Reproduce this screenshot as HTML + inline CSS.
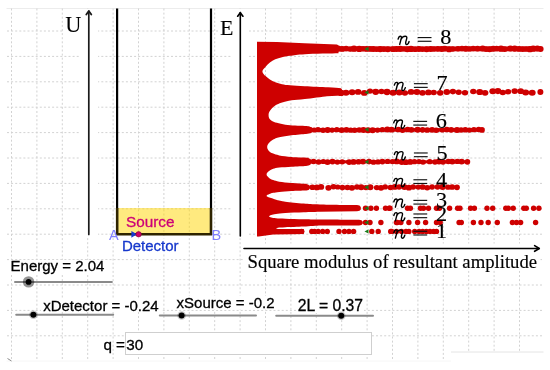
<!DOCTYPE html>
<html><head><meta charset="utf-8"><style>
html,body{margin:0;padding:0;background:#fff;width:550px;height:370px;overflow:hidden}
svg{position:absolute;left:0;top:0;display:block;filter:blur(0.3px)}
.s{font-family:"Liberation Sans",sans-serif;stroke:currentColor;stroke-width:0.3px}
.r{font-family:"Liberation Serif",serif;stroke:currentColor;stroke-width:0.15px}
</style></head><body>
<svg width="550" height="370" viewBox="0 0 550 370">

<g stroke="#ececec" stroke-width="1" fill="none">
<line x1="6.5" y1="8.5" x2="543.5" y2="8.5"/>
<line x1="6.5" y1="361" x2="543.5" y2="361" stroke="#f6f6f6"/>
</g>
<g stroke="#d2d2d2" stroke-width="1" stroke-dasharray="2 2.1" fill="none">
<line x1="11.5" y1="8.5" x2="11.5" y2="361"/>
<line x1="36.9" y1="8.5" x2="36.9" y2="361"/>
<line x1="62.3" y1="8.5" x2="62.3" y2="361"/>
<line x1="87.7" y1="8.5" x2="87.7" y2="361"/>
<line x1="113.1" y1="8.5" x2="113.1" y2="361"/>
<line x1="138.5" y1="8.5" x2="138.5" y2="361"/>
<line x1="163.9" y1="8.5" x2="163.9" y2="361"/>
<line x1="189.3" y1="8.5" x2="189.3" y2="361"/>
<line x1="214.7" y1="8.5" x2="214.7" y2="361"/>
<line x1="240.1" y1="8.5" x2="240.1" y2="361"/>
<line x1="265.5" y1="8.5" x2="265.5" y2="361"/>
<line x1="290.9" y1="8.5" x2="290.9" y2="361"/>
<line x1="316.3" y1="8.5" x2="316.3" y2="361"/>
<line x1="341.7" y1="8.5" x2="341.7" y2="361"/>
<line x1="367.1" y1="8.5" x2="367.1" y2="361"/>
<line x1="392.5" y1="8.5" x2="392.5" y2="361"/>
<line x1="417.9" y1="8.5" x2="417.9" y2="361"/>
<line x1="443.3" y1="8.5" x2="443.3" y2="361"/>
<line x1="468.7" y1="8.5" x2="468.7" y2="361"/>
<line x1="494.1" y1="8.5" x2="494.1" y2="361"/>
<line x1="519.5" y1="8.5" x2="519.5" y2="361"/>
<line x1="7" y1="31.0" x2="543.5" y2="31.0"/>
<line x1="7" y1="56.4" x2="543.5" y2="56.4"/>
<line x1="7" y1="81.8" x2="543.5" y2="81.8"/>
<line x1="7" y1="107.2" x2="543.5" y2="107.2"/>
<line x1="7" y1="132.6" x2="543.5" y2="132.6"/>
<line x1="7" y1="158.0" x2="543.5" y2="158.0"/>
<line x1="7" y1="183.4" x2="543.5" y2="183.4"/>
<line x1="7" y1="208.8" x2="543.5" y2="208.8"/>
<line x1="7" y1="234.2" x2="543.5" y2="234.2"/>
<line x1="7" y1="259.6" x2="543.5" y2="259.6"/>
<line x1="7" y1="285.0" x2="543.5" y2="285.0"/>
<line x1="7" y1="310.4" x2="543.5" y2="310.4"/>
<line x1="7" y1="335.8" x2="543.5" y2="335.8"/>
</g>
<g fill="#fff">
<rect x="63" y="13" width="17" height="23"/>
<rect x="80" y="9" width="18" height="227"/>
<rect x="218.5" y="17" width="13" height="23"/>
<rect x="231.5" y="9" width="17.5" height="228"/>
<rect x="243.5" y="243.5" width="297" height="27"/>
<rect x="9" y="260" width="98" height="15"/>
<rect x="41" y="298" width="120" height="14"/>
<rect x="174" y="296" width="102" height="13.5"/>
<rect x="296" y="299.5" width="68" height="13.5"/>
<rect x="121" y="238.5" width="58" height="15"/>
<rect x="451" y="352" width="93" height="14"/>
</g>
<line x1="451" y1="352" x2="543.5" y2="352" stroke="#e4e4e4" stroke-width="1"/>
<line x1="7.5" y1="358.5" x2="11.5" y2="361" stroke="#888" stroke-width="1"/>
<rect x="117" y="208" width="94" height="26" fill="#ffd600" fill-opacity="0.5"/>
<g stroke="#000" stroke-width="2.2">
<line x1="117.1" y1="8.5" x2="117.1" y2="235"/>
<line x1="211" y1="8.5" x2="211" y2="235"/>
</g>
<polyline points="117.1,208 117.1,234.3 211,234.3 211,208" fill="none" stroke="#2e2400" stroke-width="2.4" stroke-linejoin="miter"/>
<g stroke="#1a1a1a" stroke-width="1.7" fill="none" stroke-linecap="round" stroke-linejoin="round">
<line x1="88.8" y1="11" x2="88.8" y2="234.5"/>
<polyline points="86.3,14.6 88.8,11.1 91.3,14.6" stroke-width="1.8"/>
</g>
<g stroke="#000" stroke-width="1.6" fill="none" stroke-linecap="round" stroke-linejoin="round">
<line x1="240.3" y1="12.6" x2="240.3" y2="236"/>
<polyline points="237.7,16.2 240.3,12.7 242.9,16.2" stroke-width="1.7"/>
<line x1="244" y1="248.5" x2="539" y2="248.5"/>
<polyline points="534.6,245.6 539.3,248.5 534.6,251.3"/>
</g>
<path d="M257,41.8 L277,41.9 L304.5,43.2 L337,44.6 L338.5,45.5 L338.5,53.3 C332.9,53.4 313.1,53.8 305.0,54.2 C296.9,54.6 293.9,55.3 290.1,55.8 C286.3,56.3 284.5,56.6 282.0,57.2 C279.5,57.8 277.3,58.3 275.3,59.2 C273.3,60.1 271.5,61.3 269.9,62.6 C268.3,63.9 266.9,65.3 265.6,66.8 C264.4,68.3 262.4,69.9 262.4,71.4 C262.4,73.0 264.4,74.8 265.6,76.1 C266.9,77.4 268.3,78.5 269.9,79.5 C271.5,80.5 273.3,81.4 275.3,82.2 C277.3,83.0 279.5,83.7 282.0,84.2 C284.5,84.7 286.3,85.0 290.1,85.3 C293.9,85.6 298.7,85.9 305.0,86.2 C311.3,86.5 322.0,87.0 328.0,87.3 C334.0,87.6 338.8,88.0 341.0,88.2 L342.0,89.5 L342.0,95.5 L327.0,96.2 C323.3,96.7 310.8,98.4 304.9,99.1 C299.0,99.8 295.1,99.8 291.5,100.3 C287.9,100.8 285.4,101.5 283.0,102.2 C280.6,102.9 278.7,103.6 276.9,104.6 C275.1,105.6 273.3,107.0 272.0,108.2 C270.7,109.4 269.8,110.8 269.2,112.0 C268.6,113.2 268.6,114.4 268.6,115.5 C268.6,116.6 268.7,117.6 269.3,118.5 C269.9,119.4 270.7,120.2 272.0,120.9 C273.3,121.6 274.7,122.2 276.9,122.8 C279.1,123.4 282.4,124.2 285.4,124.7 C288.4,125.2 291.9,125.3 295.1,125.5 C298.4,125.7 302.4,125.8 304.9,125.9 C307.4,126.0 309.1,126.2 310.0,126.3 L309.0,126.4 L311.5,127.2 L311.5,133.0 L309.0,133.6 L306.0,134.0 C303.6,134.2 295.9,134.8 291.5,135.3 C287.1,135.8 282.4,136.5 279.3,137.2 C276.2,137.9 274.9,138.7 273.2,139.6 C271.5,140.5 270.3,141.6 269.4,142.5 C268.5,143.4 268.0,144.3 267.6,145.0 C267.2,145.7 267.2,146.2 267.2,146.9 C267.2,147.6 267.2,148.2 267.6,149.0 C268.0,149.8 268.5,150.6 269.4,151.4 C270.3,152.2 271.5,152.9 273.2,153.6 C274.9,154.3 276.2,154.8 279.3,155.4 C282.4,156.0 287.2,156.5 291.5,156.9 C295.8,157.3 302.0,157.4 304.9,157.6 C307.8,157.8 308.3,157.9 309.0,158.0 L308.5,158.3 L310.5,159.1 L310.5,164.8 L308.5,165.5 L306.0,165.9 C303.6,166.0 295.9,166.4 291.5,166.7 C287.1,167.0 282.4,167.2 279.3,167.5 C276.2,167.8 274.9,168.2 273.2,168.8 C271.5,169.4 270.4,170.1 269.4,170.8 C268.4,171.5 267.7,172.2 267.2,172.8 C266.7,173.4 266.6,173.9 266.6,174.4 C266.6,174.9 266.7,175.4 267.2,176.0 C267.7,176.6 268.4,177.5 269.4,178.2 C270.4,178.9 271.5,179.5 273.2,180.1 C274.9,180.7 276.2,181.2 279.3,181.7 C282.4,182.2 287.2,182.6 291.5,182.9 C295.8,183.2 302.3,183.5 304.9,183.7 C307.5,183.9 306.6,183.9 307.0,184.0 L306.5,184.2 L308.5,184.9 L308.5,190.0 L306.5,190.4 L304.9,190.5 C302.7,190.6 295.8,190.8 291.5,191.0 C287.2,191.2 282.4,191.6 279.3,191.9 C276.2,192.2 274.9,192.4 273.2,192.8 C271.5,193.2 270.5,193.6 269.4,194.1 C268.3,194.6 266.6,195.3 266.6,195.9 C266.6,196.5 268.3,197.0 269.4,197.5 C270.5,198.0 271.5,198.2 273.2,198.7 C274.9,199.2 277.3,200.1 279.3,200.6 C281.3,201.1 281.3,201.2 285.4,201.7 C289.5,202.2 297.9,203.1 303.7,203.5 C309.5,203.9 311.1,204.2 320.0,204.4 C328.9,204.7 350.8,204.9 357.0,205.0 L359.5,205.6 L360.8,207.0 L360.8,209.5 L359.5,210.8 L357.0,211.3 L320.0,211.8 C317.3,211.9 309.5,212.1 303.7,212.3 C297.9,212.5 290.0,212.8 285.4,213.1 C280.8,213.4 278.4,213.7 276.0,214.0 C273.6,214.3 272.5,214.6 271.3,215.0 C270.1,215.4 269.0,215.9 269.0,216.3 C269.0,216.7 270.1,217.2 271.3,217.5 C272.5,217.8 273.6,218.0 276.0,218.2 C278.4,218.4 280.8,218.5 285.4,218.7 C290.0,218.9 297.9,219.1 303.7,219.2 C309.5,219.3 310.8,219.4 320.0,219.5 C329.2,219.6 352.5,219.7 359.0,219.7 L361.5,220.3 L362.8,221.8 L362.8,223.6 L361.5,224.9 L359.0,225.4 L320.0,225.6 C317.3,225.8 309.5,226.3 303.7,226.6 C297.9,226.9 289.7,227.1 285.4,227.3 C281.1,227.5 279.5,227.6 278.0,227.8 C276.5,228.0 276.3,228.1 276.3,228.3 C276.3,228.5 276.5,228.8 278.0,228.9 C279.5,229.0 281.1,229.1 285.4,229.1 C289.7,229.1 300.6,229.1 303.7,229.1 L304.5,231.5 L303.7,234.0 L291.5,234.2 L273.3,234.6 L258.7,236.4 L257,236.4 Z" fill="#ce0000"/>
<g fill="#ce0000">
<rect x="338" y="46.5" width="202.60000000000002" height="4.8"/><ellipse cx="338.0" cy="48.6" rx="3.39" ry="3.08"/><ellipse cx="342.1" cy="48.9" rx="3.19" ry="2.90"/><ellipse cx="346.1" cy="48.5" rx="2.98" ry="2.71"/><ellipse cx="350.3" cy="49.1" rx="2.97" ry="2.70"/><ellipse cx="354.0" cy="48.7" rx="3.44" ry="3.13"/><ellipse cx="359.3" cy="48.9" rx="3.43" ry="3.12"/><ellipse cx="363.0" cy="48.8" rx="2.98" ry="2.71"/><ellipse cx="366.4" cy="48.9" rx="3.09" ry="2.80"/><ellipse cx="369.9" cy="48.9" rx="3.11" ry="2.83"/><ellipse cx="373.2" cy="49.0" rx="3.29" ry="2.99"/><ellipse cx="376.6" cy="49.2" rx="3.03" ry="2.75"/><ellipse cx="380.2" cy="49.1" rx="3.43" ry="3.12"/><ellipse cx="383.9" cy="49.1" rx="3.12" ry="2.84"/><ellipse cx="387.8" cy="49.2" rx="3.22" ry="2.93"/><ellipse cx="393.1" cy="49.2" rx="3.18" ry="2.89"/><ellipse cx="396.5" cy="49.1" rx="3.30" ry="3.00"/><ellipse cx="400.2" cy="48.9" rx="3.36" ry="3.05"/><ellipse cx="404.0" cy="48.9" rx="2.98" ry="2.71"/><ellipse cx="407.3" cy="49.3" rx="3.26" ry="2.97"/><ellipse cx="411.0" cy="48.9" rx="3.46" ry="3.14"/><ellipse cx="415.1" cy="49.2" rx="3.08" ry="2.80"/><ellipse cx="418.9" cy="49.0" rx="3.20" ry="2.91"/><ellipse cx="422.4" cy="49.3" rx="2.97" ry="2.70"/><ellipse cx="426.6" cy="49.2" rx="3.34" ry="3.03"/><ellipse cx="430.7" cy="49.0" rx="3.18" ry="2.89"/><ellipse cx="434.0" cy="49.0" rx="3.07" ry="2.79"/><ellipse cx="437.8" cy="48.8" rx="3.14" ry="2.86"/><ellipse cx="441.7" cy="49.0" rx="3.20" ry="2.91"/><ellipse cx="444.9" cy="48.6" rx="3.26" ry="2.96"/><ellipse cx="449.1" cy="49.2" rx="3.37" ry="3.07"/><ellipse cx="452.7" cy="49.1" rx="3.01" ry="2.74"/><ellipse cx="458.0" cy="48.7" rx="3.02" ry="2.75"/><ellipse cx="462.0" cy="48.5" rx="3.05" ry="2.77"/><ellipse cx="465.8" cy="48.7" rx="3.32" ry="3.02"/><ellipse cx="469.6" cy="48.9" rx="2.98" ry="2.71"/><ellipse cx="473.2" cy="48.6" rx="3.02" ry="2.75"/><ellipse cx="477.5" cy="48.6" rx="3.27" ry="2.97"/><ellipse cx="482.7" cy="48.6" rx="3.33" ry="3.02"/><ellipse cx="486.1" cy="49.1" rx="3.24" ry="2.95"/><ellipse cx="489.6" cy="49.2" rx="3.23" ry="2.93"/><ellipse cx="493.1" cy="48.8" rx="3.26" ry="2.96"/><ellipse cx="496.6" cy="48.5" rx="3.12" ry="2.83"/><ellipse cx="501.0" cy="48.7" rx="3.39" ry="3.09"/><ellipse cx="504.6" cy="49.1" rx="3.18" ry="2.89"/><ellipse cx="510.4" cy="48.5" rx="3.38" ry="3.07"/><ellipse cx="514.7" cy="48.6" rx="3.40" ry="3.09"/><ellipse cx="519.1" cy="48.9" rx="3.16" ry="2.87"/><ellipse cx="522.7" cy="49.1" rx="3.18" ry="2.89"/><ellipse cx="526.1" cy="49.0" rx="3.12" ry="2.83"/><ellipse cx="529.9" cy="49.2" rx="3.42" ry="3.10"/><ellipse cx="533.2" cy="48.7" rx="3.46" ry="3.14"/><ellipse cx="537.3" cy="48.6" rx="3.30" ry="3.00"/><circle cx="540.6" cy="48.9" r="3.0"/>
<ellipse cx="341.0" cy="92.9" rx="3.60" ry="3.13"/><ellipse cx="346.0" cy="92.7" rx="3.49" ry="3.03"/><ellipse cx="352.1" cy="92.2" rx="3.42" ry="2.97"/><ellipse cx="358.1" cy="91.9" rx="3.31" ry="2.88"/><ellipse cx="364.3" cy="92.9" rx="3.39" ry="2.94"/><ellipse cx="370.0" cy="91.1" rx="3.12" ry="2.71"/><ellipse cx="375.7" cy="91.8" rx="3.57" ry="3.10"/><ellipse cx="381.5" cy="91.5" rx="3.12" ry="2.71"/><ellipse cx="387.0" cy="92.0" rx="3.62" ry="3.15"/><ellipse cx="393.1" cy="92.8" rx="3.52" ry="3.06"/><ellipse cx="399.3" cy="92.5" rx="3.51" ry="3.06"/><ellipse cx="404.9" cy="92.9" rx="3.19" ry="2.77"/><ellipse cx="411.1" cy="91.9" rx="3.38" ry="2.94"/><ellipse cx="416.9" cy="92.0" rx="3.54" ry="3.07"/><ellipse cx="422.5" cy="92.8" rx="3.34" ry="2.91"/><ellipse cx="428.4" cy="92.4" rx="3.36" ry="2.92"/><ellipse cx="433.7" cy="92.4" rx="3.19" ry="2.77"/><ellipse cx="440.2" cy="92.8" rx="3.27" ry="2.84"/><ellipse cx="446.8" cy="92.0" rx="3.37" ry="2.93"/><ellipse cx="452.9" cy="91.6" rx="3.21" ry="2.79"/><ellipse cx="458.7" cy="92.2" rx="3.14" ry="2.73"/><ellipse cx="465.0" cy="92.8" rx="3.20" ry="2.79"/><ellipse cx="473.3" cy="91.5" rx="3.22" ry="2.80"/><ellipse cx="479.7" cy="92.0" rx="3.55" ry="3.08"/><ellipse cx="485.1" cy="92.8" rx="3.32" ry="2.89"/><ellipse cx="492.8" cy="91.3" rx="3.45" ry="3.00"/><ellipse cx="497.9" cy="91.1" rx="3.48" ry="3.03"/><ellipse cx="502.8" cy="92.6" rx="3.19" ry="2.77"/><ellipse cx="508.1" cy="91.8" rx="3.13" ry="2.72"/><ellipse cx="514.7" cy="91.1" rx="3.28" ry="2.85"/><ellipse cx="520.7" cy="91.2" rx="3.28" ry="2.85"/><ellipse cx="525.7" cy="92.5" rx="3.49" ry="3.03"/><ellipse cx="532.2" cy="92.7" rx="3.47" ry="3.02"/><circle cx="540.4" cy="92.0" r="3.0"/>
<rect x="310" y="128.1" width="172.0" height="3.6"/><ellipse cx="310.0" cy="129.7" rx="3.08" ry="2.80"/><ellipse cx="314.2" cy="130.0" rx="2.85" ry="2.59"/><ellipse cx="318.0" cy="129.7" rx="2.93" ry="2.67"/><ellipse cx="323.0" cy="130.2" rx="3.05" ry="2.77"/><ellipse cx="327.6" cy="130.0" rx="3.23" ry="2.94"/><ellipse cx="332.1" cy="130.1" rx="2.85" ry="2.59"/><ellipse cx="336.8" cy="129.7" rx="2.84" ry="2.58"/><ellipse cx="341.7" cy="130.1" rx="3.23" ry="2.94"/><ellipse cx="346.4" cy="129.8" rx="3.20" ry="2.91"/><ellipse cx="350.7" cy="130.2" rx="2.87" ry="2.61"/><ellipse cx="354.6" cy="130.3" rx="3.03" ry="2.75"/><ellipse cx="359.2" cy="129.9" rx="3.00" ry="2.73"/><ellipse cx="363.4" cy="130.0" rx="3.25" ry="2.95"/><ellipse cx="368.0" cy="130.2" rx="3.29" ry="2.99"/><ellipse cx="372.6" cy="130.2" rx="3.28" ry="2.98"/><ellipse cx="377.6" cy="130.1" rx="2.92" ry="2.66"/><ellipse cx="382.4" cy="129.7" rx="2.85" ry="2.59"/><ellipse cx="387.3" cy="129.5" rx="3.20" ry="2.91"/><ellipse cx="391.6" cy="129.7" rx="3.18" ry="2.89"/><ellipse cx="398.4" cy="129.5" rx="3.16" ry="2.87"/><ellipse cx="402.6" cy="130.3" rx="3.06" ry="2.78"/><ellipse cx="407.6" cy="129.5" rx="3.10" ry="2.82"/><ellipse cx="411.4" cy="129.8" rx="3.11" ry="2.83"/><ellipse cx="417.6" cy="129.7" rx="3.27" ry="2.97"/><ellipse cx="422.6" cy="129.9" rx="3.07" ry="2.79"/><ellipse cx="427.2" cy="130.0" rx="3.11" ry="2.83"/><ellipse cx="432.1" cy="129.8" rx="3.16" ry="2.87"/><ellipse cx="436.2" cy="130.3" rx="3.07" ry="2.79"/><ellipse cx="442.3" cy="130.0" rx="2.83" ry="2.57"/><ellipse cx="446.8" cy="129.5" rx="3.12" ry="2.83"/><ellipse cx="451.2" cy="129.8" rx="3.15" ry="2.87"/><ellipse cx="457.0" cy="130.1" rx="3.27" ry="2.98"/><ellipse cx="461.1" cy="130.0" rx="2.97" ry="2.70"/><ellipse cx="465.3" cy="129.8" rx="3.10" ry="2.82"/><ellipse cx="469.4" cy="130.1" rx="2.83" ry="2.58"/><ellipse cx="473.9" cy="129.7" rx="2.93" ry="2.66"/><ellipse cx="478.7" cy="129.6" rx="3.03" ry="2.75"/><circle cx="482.0" cy="129.9" r="2.85"/>
<rect x="309" y="160.3" width="158.39999999999998" height="3.0"/><ellipse cx="309.0" cy="161.6" rx="2.87" ry="2.61"/><ellipse cx="313.5" cy="161.4" rx="3.01" ry="2.74"/><ellipse cx="318.6" cy="162.0" rx="2.93" ry="2.66"/><ellipse cx="323.3" cy="161.5" rx="2.87" ry="2.61"/><ellipse cx="327.5" cy="162.1" rx="3.20" ry="2.91"/><ellipse cx="332.5" cy="161.6" rx="3.12" ry="2.83"/><ellipse cx="337.4" cy="162.1" rx="2.86" ry="2.60"/><ellipse cx="342.2" cy="161.8" rx="2.91" ry="2.64"/><ellipse cx="349.1" cy="162.1" rx="3.08" ry="2.80"/><ellipse cx="353.5" cy="161.9" rx="3.24" ry="2.94"/><ellipse cx="358.5" cy="161.7" rx="3.10" ry="2.82"/><ellipse cx="363.0" cy="161.6" rx="3.20" ry="2.91"/><ellipse cx="369.0" cy="161.6" rx="3.07" ry="2.79"/><ellipse cx="373.5" cy="162.2" rx="2.91" ry="2.65"/><ellipse cx="378.0" cy="161.9" rx="2.95" ry="2.68"/><ellipse cx="382.4" cy="161.6" rx="3.08" ry="2.80"/><ellipse cx="387.6" cy="161.4" rx="2.93" ry="2.66"/><ellipse cx="392.5" cy="161.6" rx="2.98" ry="2.71"/><ellipse cx="396.7" cy="161.4" rx="3.15" ry="2.86"/><ellipse cx="401.8" cy="162.0" rx="3.27" ry="2.98"/><ellipse cx="405.8" cy="162.2" rx="3.19" ry="2.90"/><ellipse cx="410.2" cy="161.9" rx="3.21" ry="2.91"/><ellipse cx="414.5" cy="161.7" rx="2.89" ry="2.62"/><ellipse cx="419.0" cy="161.6" rx="2.83" ry="2.57"/><ellipse cx="423.0" cy="162.1" rx="2.99" ry="2.72"/><ellipse cx="429.7" cy="161.7" rx="2.92" ry="2.65"/><ellipse cx="435.0" cy="162.0" rx="2.89" ry="2.63"/><ellipse cx="439.0" cy="161.6" rx="3.29" ry="2.99"/><ellipse cx="443.0" cy="162.0" rx="3.01" ry="2.74"/><ellipse cx="448.3" cy="161.6" rx="3.01" ry="2.74"/><ellipse cx="452.3" cy="161.6" rx="3.24" ry="2.95"/><ellipse cx="457.3" cy="161.4" rx="2.94" ry="2.67"/><ellipse cx="461.6" cy="161.6" rx="3.23" ry="2.94"/><circle cx="467.4" cy="161.8" r="2.85"/>
<ellipse cx="307.0" cy="187.3" rx="3.08" ry="2.80"/><ellipse cx="312.4" cy="187.3" rx="3.10" ry="2.82"/><ellipse cx="316.8" cy="187.4" rx="3.19" ry="2.90"/><ellipse cx="321.0" cy="186.9" rx="3.20" ry="2.91"/><ellipse cx="328.5" cy="187.8" rx="3.13" ry="2.84"/><ellipse cx="333.5" cy="186.8" rx="3.07" ry="2.79"/><ellipse cx="337.7" cy="187.0" rx="2.84" ry="2.58"/><ellipse cx="342.4" cy="187.6" rx="3.07" ry="2.79"/><ellipse cx="347.4" cy="187.5" rx="3.04" ry="2.76"/><ellipse cx="351.9" cy="187.8" rx="3.22" ry="2.92"/><ellipse cx="357.0" cy="187.0" rx="2.96" ry="2.69"/><ellipse cx="361.2" cy="187.2" rx="3.22" ry="2.93"/><ellipse cx="365.8" cy="187.6" rx="2.82" ry="2.57"/><ellipse cx="370.2" cy="187.3" rx="3.28" ry="2.98"/><ellipse cx="376.8" cy="187.6" rx="2.95" ry="2.68"/><ellipse cx="381.0" cy="187.8" rx="3.18" ry="2.89"/><ellipse cx="385.2" cy="186.9" rx="2.85" ry="2.59"/><ellipse cx="390.5" cy="187.4" rx="3.03" ry="2.76"/><ellipse cx="394.8" cy="186.9" rx="3.12" ry="2.84"/><ellipse cx="399.1" cy="187.0" rx="2.95" ry="2.68"/><ellipse cx="404.5" cy="187.1" rx="3.24" ry="2.94"/><ellipse cx="408.9" cy="187.7" rx="3.12" ry="2.84"/><ellipse cx="413.2" cy="187.0" rx="2.94" ry="2.68"/><ellipse cx="418.3" cy="187.1" rx="2.86" ry="2.60"/><ellipse cx="422.6" cy="187.0" rx="3.10" ry="2.82"/><ellipse cx="427.2" cy="187.8" rx="3.05" ry="2.77"/><ellipse cx="432.1" cy="187.0" rx="2.89" ry="2.63"/><ellipse cx="437.5" cy="187.0" rx="2.91" ry="2.65"/><ellipse cx="442.6" cy="187.0" rx="3.27" ry="2.97"/><ellipse cx="448.0" cy="187.2" rx="2.87" ry="2.61"/><ellipse cx="452.1" cy="187.0" rx="3.15" ry="2.87"/><circle cx="457.0" cy="187.3" r="2.85"/>
<circle cx="365.5" cy="208.3" r="2.7"/><circle cx="370.9" cy="208.3" r="2.7"/><circle cx="376.4" cy="208.3" r="2.7"/><circle cx="385.5" cy="208.3" r="2.7"/><circle cx="389.1" cy="208.3" r="2.7"/><circle cx="390" cy="208.3" r="2.7"/><circle cx="407.5" cy="208.3" r="2.7"/><circle cx="410.4" cy="208.3" r="2.7"/><circle cx="420.5" cy="208.3" r="2.7"/><circle cx="423.5" cy="208.3" r="2.7"/><circle cx="428.5" cy="208.3" r="2.7"/><circle cx="436.5" cy="208.3" r="2.7"/><circle cx="439.5" cy="208.3" r="2.7"/><circle cx="449.6" cy="208.3" r="2.7"/><circle cx="457.6" cy="208.3" r="2.7"/><circle cx="460" cy="208.3" r="2.7"/><circle cx="470.6" cy="208.3" r="2.7"/><circle cx="474.4" cy="208.3" r="2.7"/><circle cx="487" cy="208.3" r="2.7"/><circle cx="492.7" cy="208.3" r="2.7"/><circle cx="505.8" cy="208.3" r="2.7"/><circle cx="508.3" cy="208.3" r="2.7"/><circle cx="513.2" cy="208.3" r="2.7"/><circle cx="523.8" cy="208.3" r="2.7"/><circle cx="526.3" cy="208.3" r="2.7"/><circle cx="533.6" cy="208.3" r="2.7"/><circle cx="538.9" cy="208.3" r="2.7"/>
<circle cx="365.5" cy="222.5" r="2.7"/><circle cx="370" cy="222.5" r="2.7"/><circle cx="380.9" cy="222.5" r="2.7"/><circle cx="396.4" cy="222.5" r="2.7"/><circle cx="397.3" cy="222.5" r="2.7"/><circle cx="400.9" cy="222.5" r="2.7"/><circle cx="408.9" cy="222.5" r="2.7"/><circle cx="417.6" cy="222.5" r="2.7"/><circle cx="425.6" cy="222.5" r="2.7"/><circle cx="436.5" cy="222.5" r="2.7"/><circle cx="440.2" cy="222.5" r="2.7"/><circle cx="459.1" cy="222.5" r="2.7"/><circle cx="461.3" cy="222.5" r="2.7"/><circle cx="473.4" cy="222.5" r="2.7"/><circle cx="481" cy="222.5" r="2.7"/><circle cx="488.2" cy="222.5" r="2.7"/><circle cx="497.3" cy="222.5" r="2.7"/><circle cx="512.4" cy="222.5" r="2.7"/><circle cx="516.5" cy="222.5" r="2.7"/><circle cx="520.6" cy="222.5" r="2.7"/><circle cx="535.6" cy="222.5" r="2.7"/>
<circle cx="301.5" cy="231.4" r="2.7"/><circle cx="311.8" cy="231.4" r="2.7"/><circle cx="314.5" cy="231.4" r="2.7"/><circle cx="318.2" cy="231.4" r="2.7"/><circle cx="322.7" cy="231.4" r="2.7"/><circle cx="327.3" cy="231.4" r="2.7"/><circle cx="339" cy="231.4" r="2.7"/><circle cx="344.5" cy="231.4" r="2.7"/><circle cx="349" cy="231.4" r="2.7"/><circle cx="353.6" cy="231.4" r="2.7"/><circle cx="371.8" cy="231.4" r="2.7"/><circle cx="378.2" cy="231.4" r="2.7"/><circle cx="390.7" cy="231.4" r="2.7"/><circle cx="391.8" cy="231.4" r="2.7"/><circle cx="396.5" cy="231.4" r="2.7"/><circle cx="401.6" cy="231.4" r="2.7"/><circle cx="406" cy="231.4" r="2.7"/><circle cx="408.9" cy="231.4" r="2.7"/><circle cx="414.7" cy="231.4" r="2.7"/><circle cx="419.1" cy="231.4" r="2.7"/><circle cx="422.7" cy="231.4" r="2.7"/><circle cx="426.4" cy="231.4" r="2.7"/><circle cx="430" cy="231.4" r="2.7"/><circle cx="433.6" cy="231.4" r="2.7"/><circle cx="436.5" cy="231.4" r="2.7"/>
</g>
<g fill="#1a7a1a">
<polygon points="364.5,48.9 368.5,46.7 368.5,51.1"/>
<polygon points="364.5,92.4 368.5,90.2 368.5,94.6"/>
<polygon points="364.5,129.6 368.5,127.4 368.5,131.8"/>
<polygon points="364.5,161.9 368.5,159.7 368.5,164.1"/>
<polygon points="364.5,187.2 368.5,185.0 368.5,189.4"/>
<polygon points="364.5,208.3 368.5,206.1 368.5,210.5"/>
<polygon points="364.5,222.5 368.5,220.3 368.5,224.7"/>
<polygon points="364.5,231.4 368.5,229.2 368.5,233.6"/>
</g>
<path transform="translate(397.7,44.4) scale(1,0.95)" d="M0.4,-5.6 C0.9,-7.5 1.7,-8.6 2.7,-8.6 C3.6,-8.6 3.95,-7.8 3.65,-6.6 L2.0,0 M3.0,-4.6 C3.9,-6.9 5.6,-8.6 7.5,-8.6 C8.9,-8.6 9.4,-7.6 9.0,-6 L8.1,-2.6 C7.8,-1.2 8.1,0.15 9.0,0.15 C10.1,0.15 10.9,-1.2 11.4,-3" fill="none" stroke="#000" stroke-width="1.4" stroke-linecap="round" stroke-linejoin="round"/>
<rect x="417.7" y="37.0" width="13.8" height="1.15" fill="#111"/>
<rect x="417.7" y="40.7" width="13.8" height="1.15" fill="#111"/>
<text class="r" x="440.3" y="44.4" font-size="20.2" fill="#000" color="#000" transform="translate(440.5,0) scale(1.1,1) translate(-440.5,0)">8</text>
<path transform="translate(393.9,90.5) scale(1,0.95)" d="M0.4,-5.6 C0.9,-7.5 1.7,-8.6 2.7,-8.6 C3.6,-8.6 3.95,-7.8 3.65,-6.6 L2.0,0 M3.0,-4.6 C3.9,-6.9 5.6,-8.6 7.5,-8.6 C8.9,-8.6 9.4,-7.6 9.0,-6 L8.1,-2.6 C7.8,-1.2 8.1,0.15 9.0,0.15 C10.1,0.15 10.9,-1.2 11.4,-3" fill="none" stroke="#000" stroke-width="1.4" stroke-linecap="round" stroke-linejoin="round"/>
<rect x="413.9" y="83.1" width="13.8" height="1.15" fill="#111"/>
<rect x="413.9" y="86.8" width="13.8" height="1.15" fill="#111"/>
<text class="r" x="436.5" y="90.5" font-size="20.2" fill="#000" color="#000" transform="translate(436.7,0) scale(1.1,1) translate(-436.7,0)">7</text>
<path transform="translate(393.3,128.2) scale(1,0.95)" d="M0.4,-5.6 C0.9,-7.5 1.7,-8.6 2.7,-8.6 C3.6,-8.6 3.95,-7.8 3.65,-6.6 L2.0,0 M3.0,-4.6 C3.9,-6.9 5.6,-8.6 7.5,-8.6 C8.9,-8.6 9.4,-7.6 9.0,-6 L8.1,-2.6 C7.8,-1.2 8.1,0.15 9.0,0.15 C10.1,0.15 10.9,-1.2 11.4,-3" fill="none" stroke="#000" stroke-width="1.4" stroke-linecap="round" stroke-linejoin="round"/>
<rect x="413.3" y="120.8" width="13.8" height="1.15" fill="#111"/>
<rect x="413.3" y="124.5" width="13.8" height="1.15" fill="#111"/>
<text class="r" x="435.9" y="128.2" font-size="20.2" fill="#000" color="#000" transform="translate(436.1,0) scale(1.1,1) translate(-436.1,0)">6</text>
<path transform="translate(393.9,159.8) scale(1,0.95)" d="M0.4,-5.6 C0.9,-7.5 1.7,-8.6 2.7,-8.6 C3.6,-8.6 3.95,-7.8 3.65,-6.6 L2.0,0 M3.0,-4.6 C3.9,-6.9 5.6,-8.6 7.5,-8.6 C8.9,-8.6 9.4,-7.6 9.0,-6 L8.1,-2.6 C7.8,-1.2 8.1,0.15 9.0,0.15 C10.1,0.15 10.9,-1.2 11.4,-3" fill="none" stroke="#000" stroke-width="1.4" stroke-linecap="round" stroke-linejoin="round"/>
<rect x="413.9" y="152.4" width="13.8" height="1.15" fill="#111"/>
<rect x="413.9" y="156.1" width="13.8" height="1.15" fill="#111"/>
<text class="r" x="436.5" y="159.8" font-size="20.2" fill="#000" color="#000" transform="translate(436.7,0) scale(1.1,1) translate(-436.7,0)">5</text>
<path transform="translate(393.4,186.6) scale(1,0.95)" d="M0.4,-5.6 C0.9,-7.5 1.7,-8.6 2.7,-8.6 C3.6,-8.6 3.95,-7.8 3.65,-6.6 L2.0,0 M3.0,-4.6 C3.9,-6.9 5.6,-8.6 7.5,-8.6 C8.9,-8.6 9.4,-7.6 9.0,-6 L8.1,-2.6 C7.8,-1.2 8.1,0.15 9.0,0.15 C10.1,0.15 10.9,-1.2 11.4,-3" fill="none" stroke="#000" stroke-width="1.4" stroke-linecap="round" stroke-linejoin="round"/>
<rect x="413.4" y="179.2" width="13.8" height="1.15" fill="#111"/>
<rect x="413.4" y="182.9" width="13.8" height="1.15" fill="#111"/>
<text class="r" x="436.0" y="186.6" font-size="20.2" fill="#000" color="#000" transform="translate(436.2,0) scale(1.1,1) translate(-436.2,0)">4</text>
<path transform="translate(393.4,207.2) scale(1,0.95)" d="M0.4,-5.6 C0.9,-7.5 1.7,-8.6 2.7,-8.6 C3.6,-8.6 3.95,-7.8 3.65,-6.6 L2.0,0 M3.0,-4.6 C3.9,-6.9 5.6,-8.6 7.5,-8.6 C8.9,-8.6 9.4,-7.6 9.0,-6 L8.1,-2.6 C7.8,-1.2 8.1,0.15 9.0,0.15 C10.1,0.15 10.9,-1.2 11.4,-3" fill="none" stroke="#000" stroke-width="1.4" stroke-linecap="round" stroke-linejoin="round"/>
<rect x="413.4" y="199.8" width="13.8" height="1.15" fill="#111"/>
<rect x="413.4" y="203.5" width="13.8" height="1.15" fill="#111"/>
<text class="r" x="436.0" y="207.2" font-size="20.2" fill="#000" color="#000" transform="translate(436.2,0) scale(1.1,1) translate(-436.2,0)">3</text>
<path transform="translate(393.4,220.8) scale(1,0.95)" d="M0.4,-5.6 C0.9,-7.5 1.7,-8.6 2.7,-8.6 C3.6,-8.6 3.95,-7.8 3.65,-6.6 L2.0,0 M3.0,-4.6 C3.9,-6.9 5.6,-8.6 7.5,-8.6 C8.9,-8.6 9.4,-7.6 9.0,-6 L8.1,-2.6 C7.8,-1.2 8.1,0.15 9.0,0.15 C10.1,0.15 10.9,-1.2 11.4,-3" fill="none" stroke="#000" stroke-width="1.4" stroke-linecap="round" stroke-linejoin="round"/>
<rect x="413.4" y="213.4" width="13.8" height="1.15" fill="#111"/>
<rect x="413.4" y="217.1" width="13.8" height="1.15" fill="#111"/>
<text class="r" x="436.0" y="220.8" font-size="20.2" fill="#000" color="#000" transform="translate(436.2,0) scale(1.1,1) translate(-436.2,0)">2</text>
<path transform="translate(393.4,238.1) scale(1,0.95)" d="M0.4,-5.6 C0.9,-7.5 1.7,-8.6 2.7,-8.6 C3.6,-8.6 3.95,-7.8 3.65,-6.6 L2.0,0 M3.0,-4.6 C3.9,-6.9 5.6,-8.6 7.5,-8.6 C8.9,-8.6 9.4,-7.6 9.0,-6 L8.1,-2.6 C7.8,-1.2 8.1,0.15 9.0,0.15 C10.1,0.15 10.9,-1.2 11.4,-3" fill="none" stroke="#000" stroke-width="1.4" stroke-linecap="round" stroke-linejoin="round"/>
<rect x="413.4" y="230.7" width="13.8" height="1.15" fill="#111"/>
<rect x="413.4" y="234.4" width="13.8" height="1.15" fill="#111"/>
<text class="r" x="436.0" y="238.1" font-size="20.2" fill="#000" color="#000" transform="translate(436.2,0) scale(1.1,1) translate(-436.2,0)">1</text>
<text class="r" x="0" y="0" font-size="23.5" fill="#000" color="#000" style="stroke-width:0.1px" transform="translate(65.2,32.0) scale(0.95,1)">U</text>
<text class="r" x="220" y="35.3" font-size="22" fill="#000" color="#000" style="stroke-width:0.1px">E</text>
<text class="r" x="247.5" y="267.5" font-size="18.7" fill="#000" color="#000">Square modulus of resultant amplitude</text>
<text class="s" x="126" y="226.8" font-size="15.3" fill="#cc0077" color="#cc0077">Source</text>
<text class="s" x="121.9" y="251" font-size="15" fill="#1638cc" color="#1638cc">Detector</text>
<text class="s" x="109.1" y="240.3" font-size="14.5" fill="#7f7fff" style="stroke-width:0">A</text>
<text class="s" x="211.5" y="239.6" font-size="14.5" fill="#7f7fff" style="stroke-width:0">B</text>
<polygon points="131.4,231 137,234.3 131.4,237.7" fill="#1638cc"/>
<circle cx="138.6" cy="234.3" r="2.7" fill="#cc0066" stroke="#7a0030" stroke-width="0.6"/>
<g stroke="#8a8a8a" stroke-width="2" stroke-linecap="round">
<line x1="15" y1="281.9" x2="111.9" y2="281.9"/>
<line x1="16.2" y1="314.7" x2="113.2" y2="314.7"/>
<line x1="159.8" y1="315.5" x2="256" y2="315.5"/>
<line x1="276.2" y1="315.7" x2="373" y2="315.7"/>
</g>
<circle cx="28.6" cy="281.9" r="5.7" fill="#000" fill-opacity="0.42"/>
<circle cx="28.6" cy="281.9" r="2.9" fill="#000"/>
<circle cx="33.4" cy="314.7" r="4.3" fill="#000" fill-opacity="0.22"/><circle cx="33.4" cy="314.7" r="3.0" fill="#000"/>
<circle cx="181.6" cy="315.5" r="4.3" fill="#000" fill-opacity="0.22"/><circle cx="181.6" cy="315.5" r="3.0" fill="#000"/>
<circle cx="341.2" cy="315.7" r="4.3" fill="#000" fill-opacity="0.22"/><circle cx="341.2" cy="315.7" r="3.0" fill="#000"/>
<text class="s" x="10.6" y="271.2" font-size="15" fill="#000" color="#000">Energy = 2.04</text>
<text class="s" x="43.2" y="311.1" font-size="15" fill="#000" color="#000">xDetector = -0.24</text>
<text class="s" x="176.6" y="308.2" font-size="15" fill="#000" color="#000">xSource = -0.2</text>
<text class="s" x="297.8" y="311.2" font-size="15.7" fill="#000" color="#000">2L = 0.37</text>
<rect x="125.5" y="332.5" width="246" height="22" fill="#fff" stroke="#cfcfcf" stroke-width="1"/>
<text class="s" x="103.4" y="349.8" font-size="15.2" fill="#000" color="#000">q =</text>
<text class="s" x="126.2" y="350" font-size="15.2" fill="#000" color="#000">30</text>
</svg></body></html>
